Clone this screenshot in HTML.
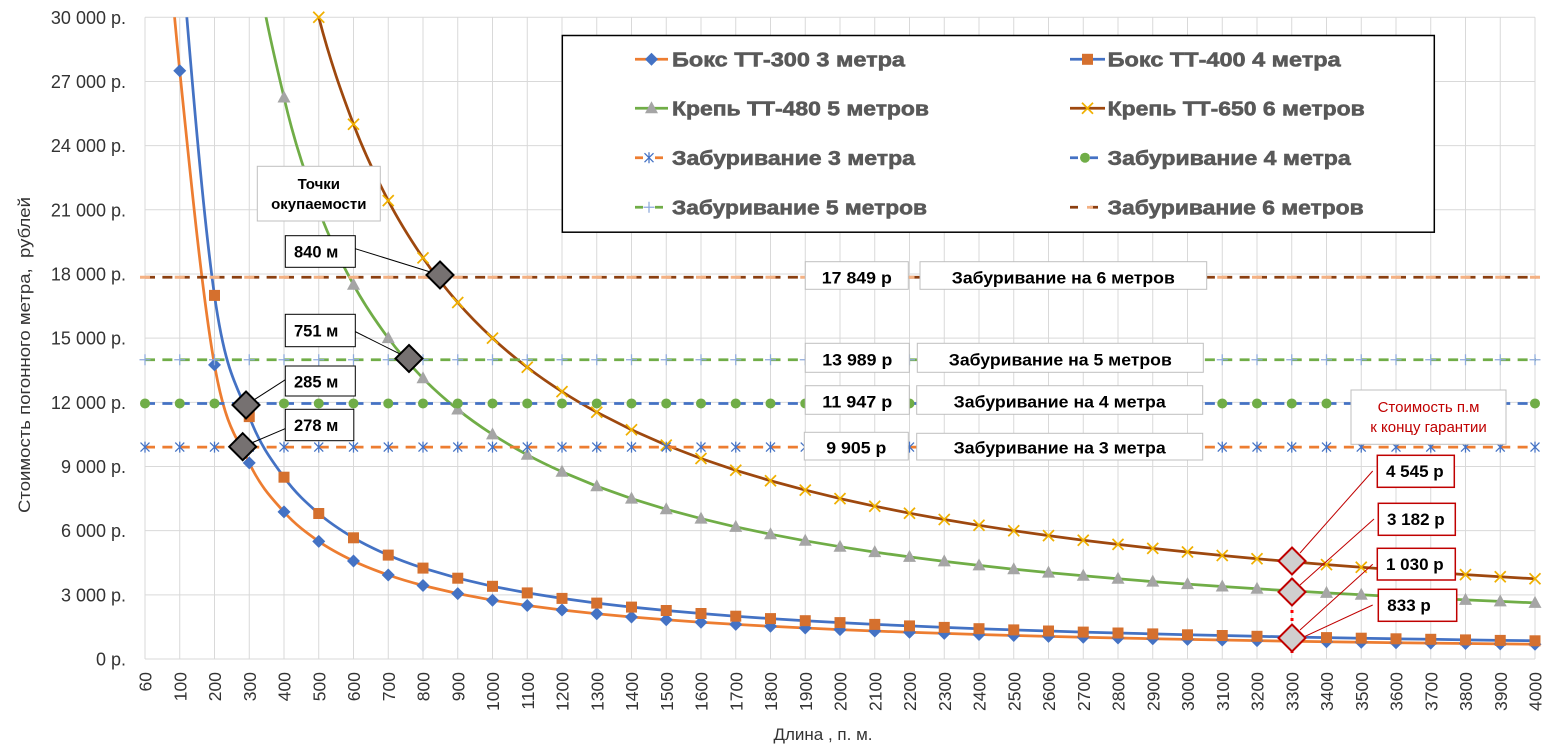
<!DOCTYPE html>
<html><head><meta charset="utf-8">
<style>
html,body{margin:0;padding:0;background:#fff;}
svg{display:block;font-family:"Liberation Sans","DejaVu Sans",sans-serif;}
</style></head><body>
<svg width="1558" height="756" viewBox="0 0 1558 756" xmlns="http://www.w3.org/2000/svg" xmlns:xlink="http://www.w3.org/1999/xlink">
<defs>
<clipPath id="pc"><rect x="145" y="17.3" width="1391" height="642"/></clipPath>
<polygon id="mD" points="0,-6.5 6.5,0 0,6.5 -6.5,0" fill="#4472c4"/>
<rect id="mS" x="-5.5" y="-5.5" width="11" height="11" fill="#d5702e"/>
<polygon id="mT" points="0,-7 6.5,5 -6.5,5" fill="#a5a5a5"/>
<path id="mX" d="M-5.5,-5.5L5.5,5.5M-5.5,5.5L5.5,-5.5" stroke="#f0b000" stroke-width="1.75" fill="none"/>
<path id="mA" d="M-4.5,-4.5L4.5,4.5M-4.5,4.5L4.5,-4.5M0,-5.5V5.5" stroke="#4472c4" stroke-width="1.25" fill="none"/>
<path id="mP" d="M-5.5,0H5.5M0,-5.5V5.5" stroke="#8eaadb" stroke-width="1.25" fill="none"/>
</defs>
<rect x="0" y="0" width="1558" height="756" fill="#fff"/>

<!-- grid -->
<path fill="none" stroke="#d9d9d9" stroke-width="1" d="M145 17.3V659M179.75 17.3V659M214.5 17.3V659M249.25 17.3V659M284 17.3V659M318.75 17.3V659M353.5 17.3V659M388.25 17.3V659M423 17.3V659M457.75 17.3V659M492.5 17.3V659M527.25 17.3V659M562 17.3V659M596.75 17.3V659M631.5 17.3V659M666.25 17.3V659M701 17.3V659M735.75 17.3V659M770.5 17.3V659M805.25 17.3V659M840 17.3V659M874.75 17.3V659M909.5 17.3V659M944.25 17.3V659M979 17.3V659M1013.75 17.3V659M1048.5 17.3V659M1083.25 17.3V659M1118 17.3V659M1152.75 17.3V659M1187.5 17.3V659M1222.25 17.3V659M1257 17.3V659M1291.75 17.3V659M1326.5 17.3V659M1361.25 17.3V659M1396 17.3V659M1430.75 17.3V659M1465.5 17.3V659M1500.25 17.3V659M1535 17.3V659
M145 17.3H1535M145 81.47H1535M145 145.64H1535M145 209.81H1535M145 273.98H1535M145 338.15H1535M145 402.32H1535M145 466.49H1535M145 530.66H1535M145 594.83H1535M145 659H1535"/>

<!-- Series A: Бокс ТТ-300 -->
<path clip-path="url(#pc)" fill="none" stroke="#ed7d31" stroke-width="2.75" stroke-linejoin="round" d="M145,-321.4 C150.79,-256 168.17,-43.6 179.75,70.8 C191.33,185.2 202.92,299.55 214.5,364.9 C226.08,430.25 237.67,438.4 249.25,462.9 C260.83,487.4 272.42,498.8 284,511.9 C295.58,525 307.17,533.2 318.75,541.4 C330.33,549.6 341.92,555.4 353.5,561 C365.08,566.6 376.67,570.9 388.25,575 C399.83,579.1 411.42,582.4 423,585.5 L457.75,593.6 492.5,600.2 527.25,605.5 562,610 596.75,613.8 631.5,617 666.25,619.8 701,622.2 735.75,624.4 770.5,626.3 805.25,628 840,629.6 874.75,631 909.5,632.3 944.25,633.4 979,634.5 1013.75,635.5 1048.5,636.4 1083.25,637.2 1118,638 1152.75,638.7 1187.5,639.4 1222.25,640 1257,640.6 1291.75,641.2 1326.5,641.7 1361.25,642.2 1396,642.7 1430.75,643.1 1465.5,643.5 1500.25,643.9 1535,644.3"/>
<g>
<use href="#mD" x="179.75" y="70.8"/><use href="#mD" x="214.5" y="364.9"/><use href="#mD" x="249.25" y="462.9"/><use href="#mD" x="284" y="511.9"/><use href="#mD" x="318.75" y="541.4"/><use href="#mD" x="353.5" y="561"/><use href="#mD" x="388.25" y="575"/><use href="#mD" x="423" y="585.5"/><use href="#mD" x="457.75" y="593.6"/><use href="#mD" x="492.5" y="600.2"/><use href="#mD" x="527.25" y="605.5"/><use href="#mD" x="562" y="610"/><use href="#mD" x="596.75" y="613.8"/><use href="#mD" x="631.5" y="617"/><use href="#mD" x="666.25" y="619.8"/><use href="#mD" x="701" y="622.2"/><use href="#mD" x="735.75" y="624.4"/><use href="#mD" x="770.5" y="626.3"/><use href="#mD" x="805.25" y="628"/><use href="#mD" x="840" y="629.6"/><use href="#mD" x="874.75" y="631"/><use href="#mD" x="909.5" y="632.3"/><use href="#mD" x="944.25" y="633.4"/><use href="#mD" x="979" y="634.5"/><use href="#mD" x="1013.75" y="635.5"/><use href="#mD" x="1048.5" y="636.4"/><use href="#mD" x="1083.25" y="637.2"/><use href="#mD" x="1118" y="638"/><use href="#mD" x="1152.75" y="638.7"/><use href="#mD" x="1187.5" y="639.4"/><use href="#mD" x="1222.25" y="640"/><use href="#mD" x="1257" y="640.6"/><use href="#mD" x="1291.75" y="641.2"/><use href="#mD" x="1326.5" y="641.7"/><use href="#mD" x="1361.25" y="642.2"/><use href="#mD" x="1396" y="642.7"/><use href="#mD" x="1430.75" y="643.1"/><use href="#mD" x="1465.5" y="643.5"/><use href="#mD" x="1500.25" y="643.9"/><use href="#mD" x="1535" y="644.3"/>
</g>

<!-- Series B: Бокс ТТ-400 -->
<path clip-path="url(#pc)" fill="none" stroke="#4472c4" stroke-width="2.75" stroke-linejoin="round" d="M179.75,-68.3 C191.33,73.1 202.92,214.6 214.5,295.4 C226.08,376.2 237.67,386.3 249.25,416.6 C260.83,446.9 272.42,461.05 284,477.2 C295.58,493.35 307.17,503.4 318.75,513.5 C330.33,523.6 341.92,530.87 353.5,537.8 C365.08,544.73 376.67,550.05 388.25,555.1 C399.83,560.15 411.42,564.25 423,568.1 L457.75,578.2 492.5,586.3 527.25,592.9 562,598.4 596.75,603.1 631.5,607.1 666.25,610.5 701,613.5 735.75,616.2 770.5,618.6 805.25,620.7 840,622.6 874.75,624.4 909.5,625.9 944.25,627.4 979,628.7 1013.75,629.9 1048.5,631 1083.25,632.1 1118,633 1152.75,633.9 1187.5,634.8 1222.25,635.5 1257,636.3 1291.75,637 1326.5,637.6 1361.25,638.2 1396,638.8 1430.75,639.3 1465.5,639.9 1500.25,640.4 1535,640.8"/>
<g>
<use href="#mS" x="214.5" y="295.4"/><use href="#mS" x="249.25" y="416.6"/><use href="#mS" x="284" y="477.2"/><use href="#mS" x="318.75" y="513.5"/><use href="#mS" x="353.5" y="537.8"/><use href="#mS" x="388.25" y="555.1"/><use href="#mS" x="423" y="568.1"/><use href="#mS" x="457.75" y="578.2"/><use href="#mS" x="492.5" y="586.3"/><use href="#mS" x="527.25" y="592.9"/><use href="#mS" x="562" y="598.4"/><use href="#mS" x="596.75" y="603.1"/><use href="#mS" x="631.5" y="607.1"/><use href="#mS" x="666.25" y="610.5"/><use href="#mS" x="701" y="613.5"/><use href="#mS" x="735.75" y="616.2"/><use href="#mS" x="770.5" y="618.6"/><use href="#mS" x="805.25" y="620.7"/><use href="#mS" x="840" y="622.6"/><use href="#mS" x="874.75" y="624.4"/><use href="#mS" x="909.5" y="625.9"/><use href="#mS" x="944.25" y="627.4"/><use href="#mS" x="979" y="628.7"/><use href="#mS" x="1013.75" y="629.9"/><use href="#mS" x="1048.5" y="631"/><use href="#mS" x="1083.25" y="632.1"/><use href="#mS" x="1118" y="633"/><use href="#mS" x="1152.75" y="633.9"/><use href="#mS" x="1187.5" y="634.8"/><use href="#mS" x="1222.25" y="635.5"/><use href="#mS" x="1257" y="636.3"/><use href="#mS" x="1291.75" y="637"/><use href="#mS" x="1326.5" y="637.6"/><use href="#mS" x="1361.25" y="638.2"/><use href="#mS" x="1396" y="638.8"/><use href="#mS" x="1430.75" y="639.3"/><use href="#mS" x="1465.5" y="639.9"/><use href="#mS" x="1500.25" y="640.4"/><use href="#mS" x="1535" y="640.8"/>
</g>

<!-- Series C: Крепь ТТ-480 -->
<path clip-path="url(#pc)" fill="none" stroke="#70ad47" stroke-width="2.75" stroke-linejoin="round" d="M249.25,-89.7 C260.83,3.9 272.42,47.6 284,97.5 C295.58,147.4 307.17,178.6 318.75,209.8 C330.33,241 341.92,263.32 353.5,284.7 C365.08,306.08 376.67,322.5 388.25,338.1 C399.83,353.7 411.42,366.4 423,378.3 C434.58,390.2 446.17,400.15 457.75,409.5 C469.33,418.85 480.92,426.85 492.5,434.4 C504.08,441.95 515.67,448.57 527.25,454.8 C538.83,461.03 550.42,466.57 562,471.8 L596.75,486.2 631.5,498.6 666.25,509.3 701,518.6 735.75,526.9 770.5,534.2 805.25,540.8 840,546.7 874.75,552.1 909.5,556.9 944.25,561.4 979,565.4 1013.75,569.2 1048.5,572.6 1083.25,575.8 1118,578.8 1152.75,581.6 1187.5,584.1 1222.25,586.5 1257,588.8 1291.75,590.9 1326.5,592.9 1361.25,594.8 1396,596.6 1430.75,598.3 1465.5,599.9 1500.25,601.4 1535,602.9"/>
<g>
<use href="#mT" x="284" y="97.5"/><use href="#mT" x="318.75" y="209.8"/><use href="#mT" x="353.5" y="284.7"/><use href="#mT" x="388.25" y="338.1"/><use href="#mT" x="423" y="378.3"/><use href="#mT" x="457.75" y="409.5"/><use href="#mT" x="492.5" y="434.4"/><use href="#mT" x="527.25" y="454.8"/><use href="#mT" x="562" y="471.8"/><use href="#mT" x="596.75" y="486.2"/><use href="#mT" x="631.5" y="498.6"/><use href="#mT" x="666.25" y="509.3"/><use href="#mT" x="701" y="518.6"/><use href="#mT" x="735.75" y="526.9"/><use href="#mT" x="770.5" y="534.2"/><use href="#mT" x="805.25" y="540.8"/><use href="#mT" x="840" y="546.7"/><use href="#mT" x="874.75" y="552.1"/><use href="#mT" x="909.5" y="556.9"/><use href="#mT" x="944.25" y="561.4"/><use href="#mT" x="979" y="565.4"/><use href="#mT" x="1013.75" y="569.2"/><use href="#mT" x="1048.5" y="572.6"/><use href="#mT" x="1083.25" y="575.8"/><use href="#mT" x="1118" y="578.8"/><use href="#mT" x="1152.75" y="581.6"/><use href="#mT" x="1187.5" y="584.1"/><use href="#mT" x="1222.25" y="586.5"/><use href="#mT" x="1257" y="588.8"/><use href="#mT" x="1291.75" y="590.9"/><use href="#mT" x="1326.5" y="592.9"/><use href="#mT" x="1361.25" y="594.8"/><use href="#mT" x="1396" y="596.6"/><use href="#mT" x="1430.75" y="598.3"/><use href="#mT" x="1465.5" y="599.9"/><use href="#mT" x="1500.25" y="601.4"/><use href="#mT" x="1535" y="602.9"/>
</g>

<!-- Series D: Крепь ТТ-650 -->
<path clip-path="url(#pc)" fill="none" stroke="#9e480e" stroke-width="2.75" stroke-linejoin="round" d="M284,-143.1 C295.58,-71.8 307.17,-27.26 318.75,17.3 C330.33,61.86 341.92,93.7 353.5,124.25 C365.08,154.8 376.67,178.32 388.25,200.6 C399.83,222.88 411.42,240.92 423,257.9 C434.58,274.88 446.17,289.12 457.75,302.5 C469.33,315.88 480.92,327.35 492.5,338.15 C504.08,348.95 515.67,358.39 527.25,367.3 C538.83,376.21 550.42,384.12 562,391.6 C573.58,399.08 585.17,405.83 596.75,412.2 L631.5,429.8 666.25,445.1 701,458.5 735.75,470.3 770.5,480.75 805.25,490.1 840,498.6 874.75,506.2 909.5,513.2 944.25,519.5 979,525.3 1013.75,530.7 1048.5,535.6 1083.25,540.2 1118,544.4 1152.75,548.4 1187.5,552.05 1222.25,555.5 1257,558.7 1291.75,561.8 1326.5,564.6 1361.25,567.3 1396,569.9 1430.75,572.3 1465.5,574.6 1500.25,576.7 1535,578.8"/>
<g>
<use href="#mX" x="318.75" y="17.3"/><use href="#mX" x="353.5" y="124.25"/><use href="#mX" x="388.25" y="200.6"/><use href="#mX" x="423" y="257.9"/><use href="#mX" x="457.75" y="302.5"/><use href="#mX" x="492.5" y="338.15"/><use href="#mX" x="527.25" y="367.3"/><use href="#mX" x="562" y="391.6"/><use href="#mX" x="596.75" y="412.2"/><use href="#mX" x="631.5" y="429.8"/><use href="#mX" x="666.25" y="445.1"/><use href="#mX" x="701" y="458.5"/><use href="#mX" x="735.75" y="470.3"/><use href="#mX" x="770.5" y="480.75"/><use href="#mX" x="805.25" y="490.1"/><use href="#mX" x="840" y="498.6"/><use href="#mX" x="874.75" y="506.2"/><use href="#mX" x="909.5" y="513.2"/><use href="#mX" x="944.25" y="519.5"/><use href="#mX" x="979" y="525.3"/><use href="#mX" x="1013.75" y="530.7"/><use href="#mX" x="1048.5" y="535.6"/><use href="#mX" x="1083.25" y="540.2"/><use href="#mX" x="1118" y="544.4"/><use href="#mX" x="1152.75" y="548.4"/><use href="#mX" x="1187.5" y="552.05"/><use href="#mX" x="1222.25" y="555.5"/><use href="#mX" x="1257" y="558.7"/><use href="#mX" x="1291.75" y="561.8"/><use href="#mX" x="1326.5" y="564.6"/><use href="#mX" x="1361.25" y="567.3"/><use href="#mX" x="1396" y="569.9"/><use href="#mX" x="1430.75" y="572.3"/><use href="#mX" x="1465.5" y="574.6"/><use href="#mX" x="1500.25" y="576.7"/><use href="#mX" x="1535" y="578.8"/>
</g>

<!-- Horizontal: Забуривание 3 метра (9905) -->
<line x1="145" y1="447.1" x2="1536" y2="447.1" stroke="#ed7d31" stroke-width="2.75" stroke-dasharray="10 7.375"/>
<g>
<use href="#mA" x="145" y="447.1"/><use href="#mA" x="179.75" y="447.1"/><use href="#mA" x="214.5" y="447.1"/><use href="#mA" x="249.25" y="447.1"/><use href="#mA" x="284" y="447.1"/><use href="#mA" x="318.75" y="447.1"/><use href="#mA" x="353.5" y="447.1"/><use href="#mA" x="388.25" y="447.1"/><use href="#mA" x="423" y="447.1"/><use href="#mA" x="457.75" y="447.1"/><use href="#mA" x="492.5" y="447.1"/><use href="#mA" x="527.25" y="447.1"/><use href="#mA" x="562" y="447.1"/><use href="#mA" x="596.75" y="447.1"/><use href="#mA" x="631.5" y="447.1"/><use href="#mA" x="666.25" y="447.1"/><use href="#mA" x="701" y="447.1"/><use href="#mA" x="735.75" y="447.1"/><use href="#mA" x="770.5" y="447.1"/><use href="#mA" x="805.25" y="447.1"/><use href="#mA" x="840" y="447.1"/><use href="#mA" x="874.75" y="447.1"/><use href="#mA" x="909.5" y="447.1"/><use href="#mA" x="944.25" y="447.1"/><use href="#mA" x="979" y="447.1"/><use href="#mA" x="1013.75" y="447.1"/><use href="#mA" x="1048.5" y="447.1"/><use href="#mA" x="1083.25" y="447.1"/><use href="#mA" x="1118" y="447.1"/><use href="#mA" x="1152.75" y="447.1"/><use href="#mA" x="1187.5" y="447.1"/><use href="#mA" x="1222.25" y="447.1"/><use href="#mA" x="1257" y="447.1"/><use href="#mA" x="1291.75" y="447.1"/><use href="#mA" x="1326.5" y="447.1"/><use href="#mA" x="1361.25" y="447.1"/><use href="#mA" x="1396" y="447.1"/><use href="#mA" x="1430.75" y="447.1"/><use href="#mA" x="1465.5" y="447.1"/><use href="#mA" x="1500.25" y="447.1"/><use href="#mA" x="1535" y="447.1"/>
</g>
<!-- 4 метра (11947) -->
<line x1="145" y1="403.45" x2="1536" y2="403.45" stroke="#4472c4" stroke-width="2.75" stroke-dasharray="10 7.375"/>
<line x1="145" y1="403.45" x2="1536" y2="403.45" stroke="#70ad47" stroke-width="10" stroke-linecap="round" stroke-dasharray="0 34.75"/>
<!-- 5 метров (13989) -->
<line x1="145" y1="359.8" x2="1536" y2="359.8" stroke="#70ad47" stroke-width="2.75" stroke-dasharray="10 7.375"/>
<line x1="144.375" y1="359.8" x2="1536" y2="359.8" stroke="#8eaadb" stroke-width="11" stroke-dasharray="1.25 33.5"/>
<line x1="139.5" y1="359.8" x2="1541" y2="359.8" stroke="#8eaadb" stroke-width="1.25" stroke-dasharray="11 23.75"/>
<!-- 6 метров (17849) -->
<line x1="145" y1="277.2" x2="1536" y2="277.2" stroke="#8b3f10" stroke-width="2.75" stroke-dasharray="10 7.375"/>
<line x1="140" y1="277.2" x2="1541" y2="277.2" stroke="#f4b183" stroke-width="3" stroke-dasharray="10 24.75"/>

<!-- Y labels -->
<g font-size="18" fill="#333" text-anchor="end">
<text x="126" y="665.5">0 р.</text>
<text x="126" y="601.3">3 000 р.</text>
<text x="126" y="537.2">6 000 р.</text>
<text x="126" y="473">9 000 р.</text>
<text x="126" y="408.8">12 000 р.</text>
<text x="126" y="344.7">15 000 р.</text>
<text x="126" y="280.5">18 000 р.</text>
<text x="126" y="216.3">21 000 р.</text>
<text x="126" y="152.1">24 000 р.</text>
<text x="126" y="88">27 000 р.</text>
<text x="126" y="23.8">30 000 р.</text>
</g>
<text transform="translate(30,355) rotate(-90)" font-size="17" fill="#333" text-anchor="middle" textLength="316" lengthAdjust="spacingAndGlyphs">Стоимость погонного метра,&#160; рублей</text>

<!-- X labels -->
<g font-size="17.5" fill="#333" text-anchor="end">
<text transform="translate(151.5,672) rotate(-90)">60</text>
<text transform="translate(186.25,672) rotate(-90)">100</text>
<text transform="translate(221,672) rotate(-90)">200</text>
<text transform="translate(255.75,672) rotate(-90)">300</text>
<text transform="translate(290.5,672) rotate(-90)">400</text>
<text transform="translate(325.25,672) rotate(-90)">500</text>
<text transform="translate(360,672) rotate(-90)">600</text>
<text transform="translate(394.75,672) rotate(-90)">700</text>
<text transform="translate(429.5,672) rotate(-90)">800</text>
<text transform="translate(464.25,672) rotate(-90)">900</text>
<text transform="translate(499,672) rotate(-90)">1000</text>
<text transform="translate(533.75,672) rotate(-90)">1100</text>
<text transform="translate(568.5,672) rotate(-90)">1200</text>
<text transform="translate(603.25,672) rotate(-90)">1300</text>
<text transform="translate(638,672) rotate(-90)">1400</text>
<text transform="translate(672.75,672) rotate(-90)">1500</text>
<text transform="translate(707.5,672) rotate(-90)">1600</text>
<text transform="translate(742.25,672) rotate(-90)">1700</text>
<text transform="translate(777,672) rotate(-90)">1800</text>
<text transform="translate(811.75,672) rotate(-90)">1900</text>
<text transform="translate(846.5,672) rotate(-90)">2000</text>
<text transform="translate(881.25,672) rotate(-90)">2100</text>
<text transform="translate(916,672) rotate(-90)">2200</text>
<text transform="translate(950.75,672) rotate(-90)">2300</text>
<text transform="translate(985.5,672) rotate(-90)">2400</text>
<text transform="translate(1020.25,672) rotate(-90)">2500</text>
<text transform="translate(1055,672) rotate(-90)">2600</text>
<text transform="translate(1089.75,672) rotate(-90)">2700</text>
<text transform="translate(1124.5,672) rotate(-90)">2800</text>
<text transform="translate(1159.25,672) rotate(-90)">2900</text>
<text transform="translate(1194,672) rotate(-90)">3000</text>
<text transform="translate(1228.75,672) rotate(-90)">3100</text>
<text transform="translate(1263.5,672) rotate(-90)">3200</text>
<text transform="translate(1298.25,672) rotate(-90)">3300</text>
<text transform="translate(1333,672) rotate(-90)">3400</text>
<text transform="translate(1367.75,672) rotate(-90)">3500</text>
<text transform="translate(1402.5,672) rotate(-90)">3600</text>
<text transform="translate(1437.25,672) rotate(-90)">3700</text>
<text transform="translate(1472,672) rotate(-90)">3800</text>
<text transform="translate(1506.75,672) rotate(-90)">3900</text>
<text transform="translate(1541.5,672) rotate(-90)">4000</text>
</g>
<text x="823" y="740" font-size="17" fill="#333" text-anchor="middle">Длина , п. м.</text>

<!-- Legend -->
<rect x="562.3" y="35.5" width="872" height="196.7" fill="#fff" stroke="#000" stroke-width="1.5"/>
<line x1="635" y1="59.3" x2="668" y2="59.3" stroke="#ed7d31" stroke-width="2.75"/><use href="#mD" x="651.5" y="59.3"/>
<line x1="1070" y1="59.3" x2="1105" y2="59.3" stroke="#4472c4" stroke-width="2.75"/><use href="#mS" x="1087.5" y="59.3"/>
<line x1="635" y1="108.3" x2="668" y2="108.3" stroke="#70ad47" stroke-width="2.75"/><use href="#mT" x="651.5" y="108.3"/>
<line x1="1070" y1="108.3" x2="1105" y2="108.3" stroke="#9e480e" stroke-width="2.75"/><use href="#mX" x="1087.5" y="108.3"/>
<line x1="635" y1="157.7" x2="663" y2="157.7" stroke="#ed7d31" stroke-width="2.75" stroke-dasharray="8 12"/><use href="#mA" x="649" y="157.7"/>
<line x1="1070" y1="157.7" x2="1098" y2="157.7" stroke="#4472c4" stroke-width="2.75" stroke-dasharray="8 12"/><circle cx="1085" cy="157.7" r="5" fill="#70ad47"/>
<line x1="635" y1="207.3" x2="663" y2="207.3" stroke="#70ad47" stroke-width="2.75" stroke-dasharray="8 12"/><use href="#mP" x="649" y="207.3"/>
<line x1="1070" y1="207.3" x2="1098" y2="207.3" stroke="#8b3f10" stroke-width="2.75" stroke-dasharray="8 12"/>
<line x1="1087" y1="207.3" x2="1093" y2="207.3" stroke="#f4b183" stroke-width="2.75"/>
<g font-size="20" font-weight="bold" fill="#595959" stroke="#595959" stroke-width="0.6">
<text x="672" y="66.5" textLength="233" lengthAdjust="spacingAndGlyphs">Бокс ТТ-300 3 метра</text>
<text x="1107.7" y="66.5" textLength="233" lengthAdjust="spacingAndGlyphs">Бокс ТТ-400 4 метра</text>
<text x="672" y="115.5" textLength="257" lengthAdjust="spacingAndGlyphs">Крепь ТТ-480 5 метров</text>
<text x="1107.7" y="115.5" textLength="257" lengthAdjust="spacingAndGlyphs">Крепь ТТ-650 6 метров</text>
<text x="672" y="164.9" textLength="243" lengthAdjust="spacingAndGlyphs">Забуривание 3 метра</text>
<text x="1107.7" y="164.9" textLength="243" lengthAdjust="spacingAndGlyphs">Забуривание 4 метра</text>
<text x="672" y="214.5" textLength="255" lengthAdjust="spacingAndGlyphs">Забуривание 5 метров</text>
<text x="1107.7" y="214.5" textLength="256" lengthAdjust="spacingAndGlyphs">Забуривание 6 метров</text>
</g>

<!-- Payback points box -->
<rect x="257.3" y="166.3" width="123" height="54.7" fill="#fff" stroke="#bfbfbf" stroke-width="1"/>
<g font-size="15" font-weight="bold" fill="#000" text-anchor="middle">
<text x="318.8" y="189">Точки</text>
<text x="318.8" y="209">окупаемости</text>
</g>

<g stroke="#000" stroke-width="1">
<line x1="354" y1="248.3" x2="440" y2="275"/>
<line x1="352" y1="330" x2="409" y2="358.5"/>
<line x1="286" y1="379.3" x2="246" y2="405"/>
<line x1="286" y1="428.3" x2="242.7" y2="446.7"/>
</g>
<g fill="#fff" stroke="#000" stroke-width="1">
<rect x="285.3" y="235.7" width="70" height="31.6"/>
<rect x="285.3" y="314.3" width="70" height="32.4"/>
<rect x="285.3" y="366" width="70" height="30"/>
<rect x="285.3" y="409.3" width="68.5" height="31.4"/>
</g>
<g font-size="16.5" font-weight="bold" fill="#000">
<text x="294" y="257.5">840 м</text>
<text x="294" y="336.5">751 м</text>
<text x="294" y="387.5">285 м</text>
<text x="294" y="431">278 м</text>
</g>
<g fill="#767171" stroke="#000" stroke-width="2">
<polygon points="440,261.5 453.5,275 440,288.5 426.5,275"/>
<polygon points="409,345 422.5,358.5 409,372 395.5,358.5"/>
<polygon points="246,391.5 259.5,405 246,418.5 232.5,405"/>
<polygon points="242.7,433.2 256.2,446.7 242.7,460.2 229.2,446.7"/>
</g>

<!-- horizontal line labels -->
<g fill="#fff" stroke="#bfbfbf" stroke-width="1">
<rect x="805.3" y="261.7" width="103" height="27.6"/>
<rect x="920" y="261.7" width="286.7" height="27.6"/>
<rect x="805.3" y="343.3" width="104" height="29"/>
<rect x="917.3" y="343.3" width="286" height="29"/>
<rect x="805.3" y="385.7" width="104" height="28.6"/>
<rect x="916.7" y="385.7" width="286" height="28.6"/>
<rect x="804.3" y="432.3" width="104" height="27.7"/>
<rect x="916.7" y="433.3" width="286" height="26.7"/>
</g>
<g font-size="17" font-weight="bold" fill="#000" text-anchor="middle">
<text x="856.8" y="283.5" textLength="70" lengthAdjust="spacingAndGlyphs">17 849 р</text>
<text x="1063.3" y="283.5" textLength="223" lengthAdjust="spacingAndGlyphs">Забуривание на 6 метров</text>
<text x="857.3" y="365.5" textLength="70" lengthAdjust="spacingAndGlyphs">13 989 р</text>
<text x="1060.3" y="365.5" textLength="223" lengthAdjust="spacingAndGlyphs">Забуривание на 5 метров</text>
<text x="857.3" y="407.5" textLength="70" lengthAdjust="spacingAndGlyphs">11 947 р</text>
<text x="1059.7" y="407.5" textLength="212" lengthAdjust="spacingAndGlyphs">Забуривание на 4 метра</text>
<text x="856.3" y="453.5" textLength="60" lengthAdjust="spacingAndGlyphs">9 905 р</text>
<text x="1059.7" y="453.5" textLength="212" lengthAdjust="spacingAndGlyphs">Забуривание на 3 метра</text>
</g>

<!-- warranty box -->
<rect x="1351" y="390" width="155" height="54.3" fill="#fff" stroke="#bfbfbf" stroke-width="1"/>
<g font-size="15" fill="#c00000" text-anchor="middle">
<text x="1428.5" y="412">Стоимость п.м</text>
<text x="1428.5" y="432">к концу гарантии</text>
</g>

<line x1="1292" y1="562" x2="1292" y2="656" stroke="#ff0000" stroke-width="3" stroke-dasharray="3,5"/>
<g stroke="#c00000" stroke-width="1">
<line x1="1372.7" y1="471" x2="1300" y2="553"/>
<line x1="1374" y1="519" x2="1300" y2="585"/>
<line x1="1372.7" y1="564.3" x2="1300" y2="630"/>
<line x1="1372.7" y1="605" x2="1303" y2="637.3"/>
</g>
<g fill="#d0cece" stroke="#c00000" stroke-width="2">
<polygon points="1292,547.5 1305.5,561 1292,574.5 1278.5,561"/>
<polygon points="1292,578.5 1305.5,592 1292,605.5 1278.5,592"/>
<polygon points="1292,624.5 1305.5,638 1292,651.5 1278.5,638"/>
</g>
<g fill="#fff" stroke="#c00000" stroke-width="1.5">
<rect x="1377.3" y="455.3" width="77" height="32"/>
<rect x="1378.3" y="503.3" width="77" height="32"/>
<rect x="1377.3" y="548.3" width="78" height="31.7"/>
<rect x="1378.3" y="589.3" width="78.4" height="32"/>
</g>
<g font-size="17" font-weight="bold" fill="#000">
<text x="1386" y="477">4 545 р</text>
<text x="1387" y="525">3 182 р</text>
<text x="1386" y="570">1 030 р</text>
<text x="1387.3" y="611">833 р</text>
</g>
</svg>
</body></html>
